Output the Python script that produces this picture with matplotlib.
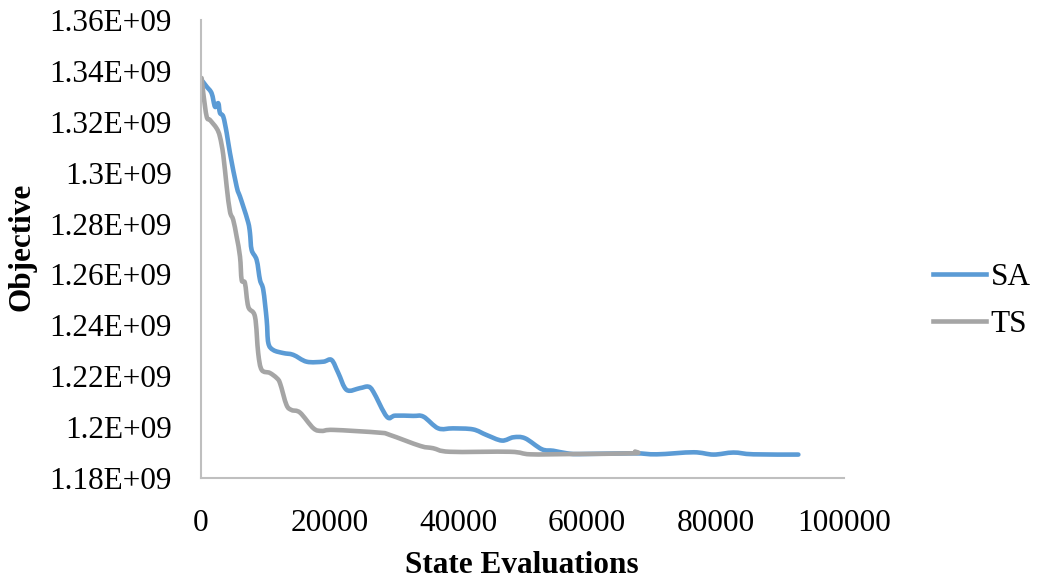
import matplotlib
matplotlib.use("Agg")
import matplotlib.pyplot as plt
from matplotlib.path import Path
from matplotlib.patches import PathPatch
from matplotlib.lines import Line2D

# Convergence traces: objective value vs. number of state evaluations
sa_evals = [100, 890, 1660, 2180, 2690, 2950, 3470, 4000, 4510, 5550, 6070, 6580,
            7360, 7620, 7880, 8660, 9180, 9690, 10220, 10470, 11240, 12800, 14350,
            16440, 19000, 20300, 21350, 22660, 24700, 26000, 26800, 28900, 30200,
            33000, 34600, 36900, 39200, 42300, 44400, 46800, 48600, 50400, 53000,
            54800, 56900, 58900, 67200, 70900, 76600, 79700, 82800, 85900, 92900]
sa_obj = [1.3364, 1.3338, 1.3312, 1.3259, 1.3273, 1.3235, 1.3220, 1.3156, 1.3077,
          1.2945, 1.2906, 1.2867, 1.2803, 1.2763, 1.2696, 1.2657, 1.2578, 1.2539,
          1.2421, 1.2331, 1.2303, 1.2291, 1.2284, 1.2257, 1.2257, 1.2264, 1.2213,
          1.2146, 1.2153, 1.2159, 1.2139, 1.2041, 1.2045, 1.2044, 1.2041, 1.1995,
          1.1995, 1.1991, 1.1969, 1.1947, 1.1960, 1.1956, 1.1913, 1.1907, 1.1897,
          1.1894, 1.1897, 1.1893, 1.1901, 1.1892, 1.1900, 1.1893, 1.1892]

ts_evals = [100, 360, 890, 1400, 2440, 2950, 3470, 4000, 4510, 5020, 5550, 6070,
            6330, 6840, 7360, 8400, 8900, 9440, 10700, 11770, 12300, 13300, 14100,
            15400, 17500, 18800, 20600, 27800, 29400, 34100, 36100, 38700, 48100,
            51200, 57400, 67200, 67500]
ts_obj = [1.3372, 1.3312, 1.3220, 1.3207, 1.3174, 1.3141, 1.3069, 1.2945, 1.2847,
          1.2814, 1.2748, 1.2670, 1.2578, 1.2566, 1.2473, 1.2434, 1.2291, 1.2225,
          1.2213, 1.2193, 1.2172, 1.2087, 1.2067, 1.2057, 1.1995, 1.1985, 1.1989,
          1.1978, 1.1969, 1.1926, 1.1917, 1.1903, 1.1903, 1.1893, 1.1894, 1.1897,
          1.1904]

y_ticks = [1.18, 1.20, 1.22, 1.24, 1.26, 1.28, 1.30, 1.32, 1.34, 1.36]
y_tick_labels = ["1.18E+09", "1.2E+09", "1.22E+09", "1.24E+09", "1.26E+09",
                 "1.28E+09", "1.3E+09", "1.32E+09", "1.34E+09", "1.36E+09"]
x_ticks = [0, 20000, 40000, 60000, 80000, 100000]
x_tick_labels = ["0", "20000", "40000", "60000", "80000", "100000"]

plt.rcParams["font.family"] = ["Liberation Serif", "DejaVu Serif"]
FS = 22.5
SA_COLOR = "#5B9BD5"
TS_COLOR = "#A5A5A5"
LW = 3.3


def smooth_path(xs, ys):
    """Cubic Bezier path through the points (Catmull-Rom style smoothing)."""
    pts = list(zip(xs, ys))
    verts = [pts[0]]
    codes = [Path.MOVETO]
    n = len(pts)
    for i in range(n - 1):
        p0 = pts[i - 1] if i > 0 else pts[i]
        p1 = pts[i]
        p2 = pts[i + 1]
        p3 = pts[i + 2] if i + 2 < n else pts[i + 1]
        c1 = (p1[0] + (p2[0] - p0[0]) / 6.0, p1[1] + (p2[1] - p0[1]) / 6.0)
        c2 = (p2[0] - (p3[0] - p1[0]) / 6.0, p2[1] - (p3[1] - p1[1]) / 6.0)
        verts += [c1, c2, p2]
        codes += [Path.CURVE4] * 3
    return Path(verts, codes)


fig = plt.figure(figsize=(10.37, 5.80), dpi=100)
ax = fig.add_axes([0.1938, 0.1759, 0.6201, 0.7896])

for xs, ys, color in ((sa_evals, sa_obj, SA_COLOR), (ts_evals, ts_obj, TS_COLOR)):
    path = smooth_path(xs, [v * 1e9 for v in ys])
    ax.add_patch(PathPatch(path, facecolor="none", edgecolor=color, lw=LW,
                           joinstyle="round", capstyle="round"))

ax.set_xlim(0, 100000)
ax.set_ylim(1.18e9, 1.36e9)
ax.set_xticks(x_ticks)
ax.set_xticklabels(x_tick_labels)
ax.set_yticks([v * 1e9 for v in y_ticks])
ax.set_yticklabels(y_tick_labels)
ax.tick_params(axis="both", length=0, labelsize=FS, colors="black")
ax.tick_params(axis="y", pad=21)
ax.tick_params(axis="x", pad=22)

for side in ("top", "right"):
    ax.spines[side].set_visible(False)
for side in ("left", "bottom"):
    ax.spines[side].set_color("#BFBFBF")
    ax.spines[side].set_linewidth(1.5)

ax.set_xlabel("State Evaluations", fontsize=FS, fontweight="bold", va="center")
ax.xaxis.set_label_coords(0.499, -0.191)
ax.set_ylabel("Objective", fontsize=FS, fontweight="bold", va="center")
ax.yaxis.set_label_coords(-0.278, 0.504)

handles = [Line2D([], [], color=SA_COLOR, lw=LW), Line2D([], [], color=TS_COLOR, lw=LW)]
fig.legend(handles, ["SA", "TS"], loc="center left", bbox_to_anchor=(0.8997, 0.481),
           frameon=False, fontsize=FS, handlelength=1.7, handletextpad=0.15,
           labelspacing=0.6, borderpad=0, borderaxespad=0)

fig.savefig("out.png", dpi=100)
